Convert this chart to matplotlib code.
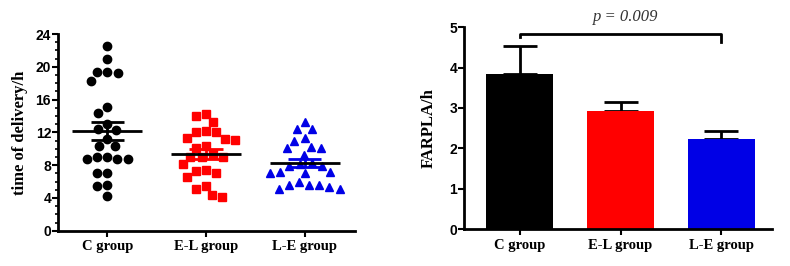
import numpy as np
import matplotlib
matplotlib.use('Agg')
import matplotlib.pyplot as plt

# данные
groups = ['C group', 'E-L group', 'L-E group']
colors = ['#000000', '#ff0000', '#0000e6']
markers = ['o', 's', '^']

c_group = [22.5, 21.0, 19.4, 19.2, 19.4, 18.3, 15.05, 14.4, 12.97, 12.28, 12.37, 11.15,
           10.33, 10.33, 9.02, 8.7, 8.7, 8.7, 9.02, 7.07, 7.07, 5.57, 5.45, 4.27]
el_group = [14.3, 14.0, 13.3, 12.16, 12.0, 12.0, 11.2, 11.1, 11.3, 10.3, 10.1, 9.3,
            9.0, 9.0, 9.0, 8.1, 7.4, 7.1, 6.5, 7.3, 5.1, 5.4, 4.15, 4.35]
le_group = [13.3, 12.37, 12.37, 11.27, 10.98, 10.24, 10.05, 10.05, 9.23, 8.29, 7.93, 7.93,
            8.1, 7.2, 7.0, 7.0, 7.2, 5.98, 5.57, 5.37, 5.05, 5.05, 5.57, 5.57]

farpla_mean = [3.84, 2.92, 2.23]
farpla_err = [0.70, 0.24, 0.21]
p_text = 'p = 0.009'

serif = 'Liberation Serif'
sans = 'Liberation Sans'


def swarm(ax, values, center, dist=10.5):
    # простая раскладка точек "beeswarm" в пикселях
    tr = ax.transData
    ypx = tr.transform(np.column_stack([np.full(len(values), center), values]))[:, 1]
    px_unit = tr.transform([[1, 0]])[0, 0] - tr.transform([[0, 0]])[0, 0]
    placed = []
    offs = np.zeros(len(values))
    for i in np.argsort(values)[::-1]:
        y = ypx[i]
        spans = []
        for xo, yo in placed:
            dy = abs(y - yo)
            if dy < dist:
                dx = np.sqrt(dist ** 2 - dy ** 2)
                spans.append((xo - dx, xo + dx))
        cands = [0.0] + [a for a, b in spans] + [b for a, b in spans]
        cands.sort(key=abs)
        for x in cands:
            if all(not (a + 1e-6 < x < b - 1e-6) for a, b in spans):
                break
        placed.append((x, y))
        offs[i] = x
    return center + offs / px_unit


def style_axes(ax):
    for s in ['top', 'right']:
        ax.spines[s].set_visible(False)
    for s in ['left', 'bottom']:
        ax.spines[s].set_linewidth(2)
    ax.tick_params(axis='both', which='major', direction='out', length=4, width=1.5)
    ax.tick_params(axis='y', labelsize=10, pad=1)
    ax.tick_params(axis='x', pad=3)
    for lab in ax.get_yticklabels():
        lab.set_fontfamily(sans)
        lab.set_fontweight('bold')
    ax.set_xticks(range(len(groups)))
    ax.set_xticklabels(groups, fontfamily=serif, fontweight='bold', fontsize=10.5)


fig = plt.figure(figsize=(7.9, 2.66), dpi=100)

# левый график: точки + среднее и SEM
ax1 = fig.add_axes([0.0734, 0.1327, 0.376, 0.7394])
ax1.set_xlim(-0.5, 2.51)
ax1.set_ylim(0, 24)
ax1.set_yticks(np.arange(0, 25, 4))
ax1.set_yticks(np.arange(0, 25, 1), minor=True)
ax1.tick_params(axis='y', which='minor', length=2, width=1.2)

for i, vals in enumerate([c_group, el_group, le_group]):
    vals = np.array(vals)
    xs = swarm(ax1, vals, i)
    ax1.plot(xs, vals, linestyle='none', marker=markers[i], ms=6,
             color=colors[i], mec=colors[i], zorder=2)
    m = vals.mean()
    sem = vals.std(ddof=1) / np.sqrt(len(vals))
    ax1.hlines(m, i - 0.355, i + 0.355, color='black', lw=2, zorder=4)
    ax1.hlines([m - sem, m + sem], i - 0.17, i + 0.17, color=colors[i], lw=2, zorder=3)
    ax1.vlines(i, m - sem, m + sem, color=colors[i], lw=2, zorder=3)

style_axes(ax1)
ax1.set_ylabel('time of delivery/h', fontfamily=serif, fontweight='bold', fontsize=12)
ax1.yaxis.set_label_coords(-0.1, 0.5)

# правый график: столбцы
ax2 = fig.add_axes([0.5873, 0.139, 0.3899, 0.7585])
ax2.set_xlim(-0.55, 2.5)
ax2.set_ylim(0, 5)
ax2.set_yticks(range(0, 6))
x = np.arange(len(groups))
ax2.bar(x, farpla_mean, width=0.66, color=colors, zorder=2)
ax2.errorbar(x, farpla_mean, yerr=[np.zeros(3), farpla_err], fmt='none',
             ecolor='black', elinewidth=2, capsize=12, capthick=2, zorder=1)
style_axes(ax2)
ax2.set_ylabel('FARPLA/h', fontfamily=serif, fontweight='bold', fontsize=12)
ax2.yaxis.set_label_coords(-0.088, 0.5)

# скобка со значимостью
ax2.plot([0, 0, 2, 2], [4.75, 4.84, 4.84, 4.63], color='black', lw=2, clip_on=False)
ax2.text(1.05, 5.05, p_text, ha='center', va='bottom', fontfamily=serif,
         style='italic', fontsize=12, color='#333333')

plt.savefig('out.png', dpi=100)
